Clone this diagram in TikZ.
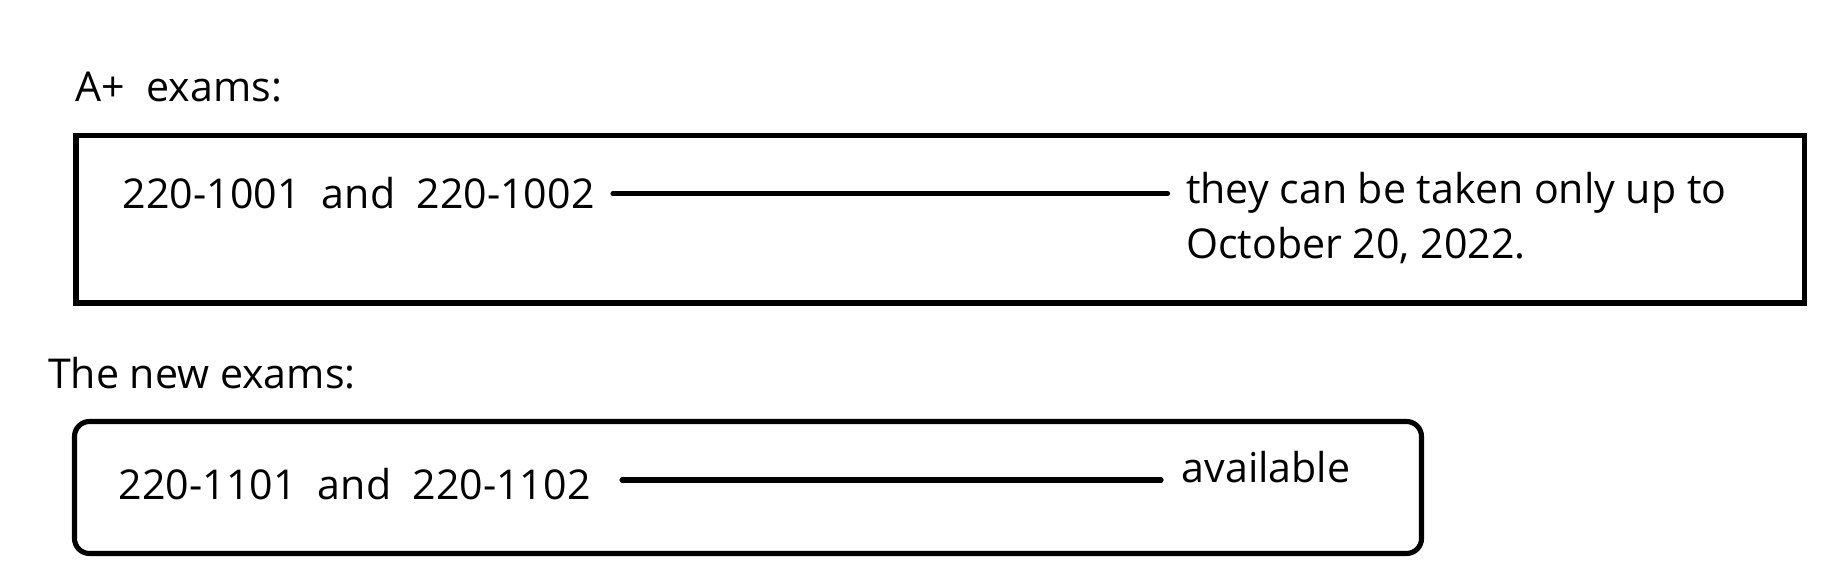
\documentclass[tikz,border=0pt]{standalone}
\usepackage{fontspec}
\setmainfont{Open Sans}
\usetikzlibrary{positioning, calc}

\begin{document}
\begin{tikzpicture}[
                frame/.style={draw, line width=1.45pt, minimum width=#1, inner sep=0pt},
                label/.style={inner sep=0pt, anchor=base west, font=\fontsize{11.7}{15.45}\selectfont},
                link/.style={line width=1.5pt, line cap=round, shorten <=0.18cm, shorten >=0.18cm}
            ]
                \useasboundingbox (0, 0) rectangle (18.33, 5.83);

                % old exams
                \node[label] (oldhead) at (0.75, 4.813) {A+\ \ exams:};
                \node[frame=17.285cm, minimum height=1.675cm] (oldbox) at (9.4025, 3.6375) {};
                \node[label] (oldcodes) at (1.22, 3.74) {220-1001\ \ and\ \ 220-1002};
                \node[label, align=left] (oldnote) at (11.855, 3.247) {they can be taken only up to\\October 20, 2022.};

                \draw[link] (oldcodes.east) -- (oldcodes.east -| oldnote.west);

                % new exams
                \node[label] (newhead) at (0.475, 1.94) {The new exams:};
                \node[frame=13.47cm, minimum height=1.32cm, rounded corners=0.15cm] (newbox) at (7.48, 0.955) {};
                \node[label] (newcodes) at (1.18, 0.835) {220-1101\ \ and\ \ 220-1102};
                \node[label] (newnote) at (11.81, 1.003) {available};

                \draw[link, shorten <=0.31cm, shorten >=0.2cm] ([yshift=0.4mm]newcodes.east) -- ([yshift=0.4mm]newcodes.east -| newnote.west);
            \end{tikzpicture}
\end{document}
